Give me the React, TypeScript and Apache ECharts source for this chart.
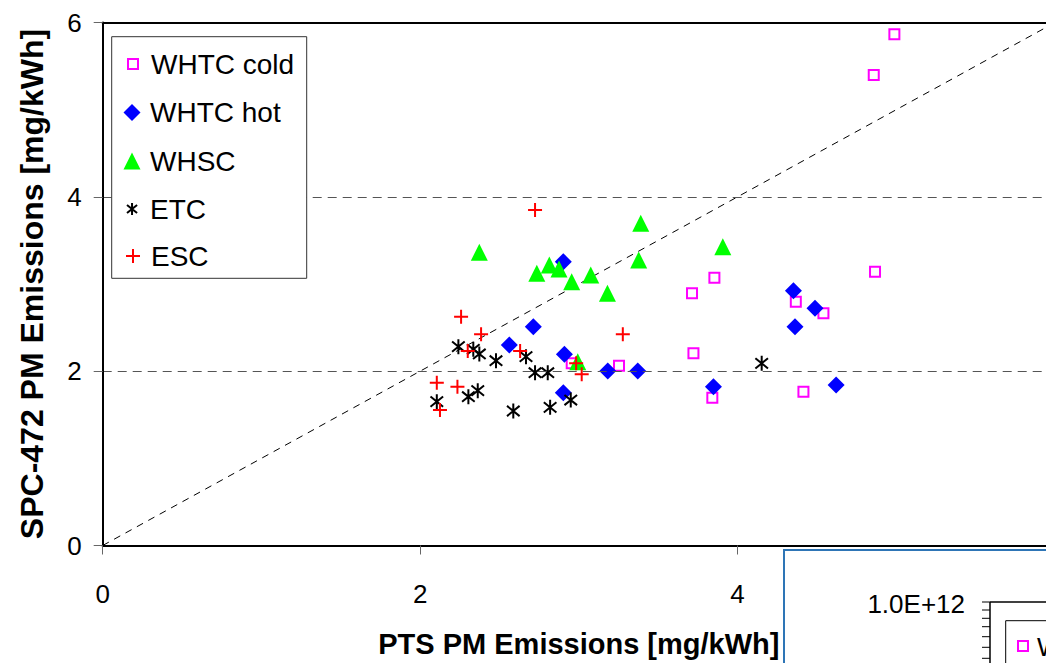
import React, { useEffect, useRef } from 'react';
import * as echarts from 'echarts';

const seriesNames = ['WHTC cold', 'WHTC hot', 'WHSC', 'ETC', 'ESC'];

const whtcCold = [
  [3.713, 2.893], [3.722, 2.205], [3.253, 2.063], [2.955, 2.09], [3.854, 3.072],
  [4.367, 2.797], [4.541, 2.664], [4.866, 3.141], [3.841, 1.696], [4.415, 1.765],
  [4.988, 5.864], [4.858, 5.397],
];
const whtcHot = [
  [2.902, 3.256], [2.713, 2.51], [2.562, 2.3], [2.909, 2.193], [2.902, 1.753],
  [3.182, 2.002], [3.371, 2.002], [4.352, 2.923], [4.488, 2.721], [4.362, 2.51],
  [3.848, 1.822], [4.621, 1.841],
];
const whsc = [
  [2.373, 3.364], [2.735, 3.122], [2.814, 3.218], [2.875, 3.172], [2.955, 3.026],
  [3.075, 3.103], [3.18, 2.893], [3.39, 3.696], [3.377, 3.275], [2.993, 2.109],
  [3.907, 3.428],
];
const etc = [
  [2.241, 2.281], [2.335, 2.251], [2.373, 2.197], [2.478, 2.12], [2.667, 2.166],
  [2.724, 1.982], [2.804, 1.982], [2.105, 1.65], [2.304, 1.707], [2.363, 1.776],
  [2.587, 1.543], [2.819, 1.585], [2.949, 1.669], [4.152, 2.09],
];
const esc = [
  [2.724, 3.849], [2.258, 2.625], [2.384, 2.423], [2.3, 2.231], [2.63, 2.231],
  [3.277, 2.423], [2.983, 2.09], [3.018, 1.964], [2.105, 1.868], [2.235, 1.822],
  [2.125, 1.554],
];
const parityLine = [[0, 0], [6, 6]];

const xTitle = 'PTS PM Emissions [mg/kWh]';
const yTitle = 'SPC-472 PM Emissions [mg/kWh]';
const insetTickLabel = '1.0E+12';
const insetLegendText = 'W';

const FONT = 'Liberation Sans, Arial, sans-serif';
const STAR = 'path://M5,0L5,10M0.8,1.6L9.2,8.4M0.8,8.4L9.2,1.6';
const PLUS = 'path://M5,0L5,10M0,5L10,5';

const seriesStyle: Record<string, any> = {
  'WHTC cold': { symbol: 'rect', size: 10, itemStyle: { color: '#ffffff', borderColor: '#ff00ff', borderWidth: 2, opacity: 1 } },
  'WHTC hot': { symbol: 'diamond', size: 17, itemStyle: { color: '#0000ff', opacity: 1 } },
  WHSC: { symbol: 'triangle', size: 17, itemStyle: { color: '#00ff00', opacity: 1 } },
  ETC: { symbol: STAR, size: 15, itemStyle: { color: '#000000', borderColor: '#000000', borderWidth: 2, opacity: 1 } },
  ESC: { symbol: PLUS, size: 14, itemStyle: { color: '#ff0000', borderColor: '#ff0000', borderWidth: 2, opacity: 1 } },
};
const seriesData: Record<string, number[][]> = {
  'WHTC cold': whtcCold,
  'WHTC hot': whtcHot,
  WHSC: whsc,
  ETC: etc,
  ESC: esc,
};

const legendCenters = [64, 112.5, 161, 209, 256];
const legendIconSize: Record<string, number> = { 'WHTC cold': 10, 'WHTC hot': 17, WHSC: 17, ETC: 12, ESC: 14 };
const insetTicks = [602, 610, 618.3, 626.7, 636.7, 647.3, 658.3];

export default function App() {
  const ref = useRef<HTMLDivElement>(null);
  useEffect(() => {
    const chart = echarts.init(ref.current!, null, { renderer: 'svg' });

    const legends = seriesNames.map((name, i) => {
      const st = seriesStyle[name];
      const w = legendIconSize[name];
      return {
        show: true,
        data: [name],
        orient: 'vertical',
        left: 132 - w / 2,
        top: legendCenters[i] - 14,
        padding: 0,
        itemWidth: w,
        itemHeight: w,
        selectedMode: false,
        z: 6,
        itemStyle: { borderWidth: st.itemStyle.borderWidth || 0 },
        textStyle: {
          fontFamily: FONT,
          fontSize: 28,
          color: '#000',
          lineHeight: 28,
          padding: [0, 0, 0, 13 - w / 2],
        },
      };
    });

    const option: any = {
      animation: false,
      backgroundColor: '#ffffff',
      textStyle: { fontFamily: FONT },
      grid: {
        left: 102.7,
        right: -9,
        top: 22.5,
        bottom: 117.5,
        containLabel: false,
        outerBoundsMode: 'none',
      },
      legend: legends,
      xAxis: [
        {
          type: 'value',
          min: 0,
          max: 6,
          interval: 2,
          name: xTitle,
          nameLocation: 'middle',
          nameGap: 84,
          nameTextStyle: { fontFamily: FONT, fontSize: 29, fontWeight: 'bold', color: '#000' },
          axisLine: { show: true, onZero: false, lineStyle: { color: '#000', width: 2 } },
          axisTick: { show: true, length: 9, lineStyle: { color: '#666', width: 1 } },
          axisLabel: { fontFamily: FONT, fontSize: 26, color: '#000', margin: 35, showMaxLabel: false },
          splitLine: { show: false },
          z: 4,
        },
        {
          type: 'value',
          position: 'top',
          min: 0,
          max: 6,
          interval: 2,
          axisLine: { show: true, onZero: false, lineStyle: { color: '#000', width: 2 } },
          axisTick: { show: false },
          axisLabel: { show: false },
          splitLine: { show: false },
          z: 4,
        },
      ],
      yAxis: {
        type: 'value',
        min: 0,
        max: 6,
        interval: 2,
        name: yTitle,
        nameLocation: 'middle',
        nameGap: 55,
        nameTextStyle: { fontFamily: FONT, fontSize: 32, fontWeight: 'bold', color: '#000' },
        axisLine: { show: true, onZero: false, lineStyle: { color: '#000', width: 2 } },
        axisTick: { show: true, length: 9, lineStyle: { color: '#666', width: 1 } },
        axisLabel: { fontFamily: FONT, fontSize: 26, color: '#000', margin: 21 },
        splitLine: { show: true, lineStyle: { color: '#555', width: 1, type: [9, 6] } },
        z: 4,
      },
      series: [
        {
          type: 'line',
          name: '1:1',
          data: parityLine,
          symbol: 'none',
          silent: true,
          lineStyle: { color: '#000', width: 1, type: [7, 6] },
          z: 1,
        },
        ...seriesNames.map((name) => {
          const st = seriesStyle[name];
          return {
            type: 'scatter',
            name,
            data: seriesData[name],
            symbol: st.symbol,
            symbolSize: st.size,
            symbolKeepAspect: true,
            itemStyle: st.itemStyle,
            z: 2,
          };
        }),
      ],
      graphic: [
        {
          type: 'rect',
          z: 5,
          shape: { x: 111.7, y: 36.7, width: 195, height: 241.6 },
          style: { fill: '#ffffff', stroke: '#333', lineWidth: 1 },
        },
        {
          type: 'rect',
          z: 5,
          shape: { x: 784, y: 550, width: 300, height: 200 },
          style: { fill: '#ffffff', stroke: '#2e75b6', lineWidth: 2 },
        },
        {
          type: 'text',
          z: 6,
          x: 965,
          y: 604,
          style: { text: insetTickLabel, font: `26px ${FONT}`, fill: '#000', align: 'right', verticalAlign: 'middle' },
        },
        {
          type: 'line',
          z: 6,
          shape: { x1: 990, y1: 602, x2: 990, y2: 680 },
          style: { stroke: '#000', lineWidth: 1.5 },
        },
        {
          type: 'line',
          z: 6,
          shape: { x1: 990, y1: 602, x2: 1060, y2: 602 },
          style: { stroke: '#000', lineWidth: 1.5 },
        },
        ...insetTicks.map((y) => ({
          type: 'line',
          z: 6,
          shape: { x1: 982, y1: y, x2: 990, y2: y },
          style: { stroke: '#000', lineWidth: 1 },
        })),
        {
          type: 'rect',
          z: 6,
          shape: { x: 1005.7, y: 620.7, width: 100, height: 100 },
          style: { fill: 'none', stroke: '#000', lineWidth: 1 },
        },
        {
          type: 'rect',
          z: 6,
          shape: { x: 1018, y: 641, width: 10, height: 10 },
          style: { fill: '#fff', stroke: '#ff00ff', lineWidth: 2 },
        },
        {
          type: 'text',
          z: 6,
          x: 1037,
          y: 647,
          style: { text: insetLegendText, font: `26px ${FONT}`, fill: '#000', align: 'left', verticalAlign: 'middle' },
        },
      ],
    };

    chart.setOption(option);
    return () => chart.dispose();
  }, []);

  return (
    <div
      ref={ref}
      style={{ position: 'absolute', left: 0, top: 0, width: 1046, height: 663, background: '#fff' }}
    />
  );
}
